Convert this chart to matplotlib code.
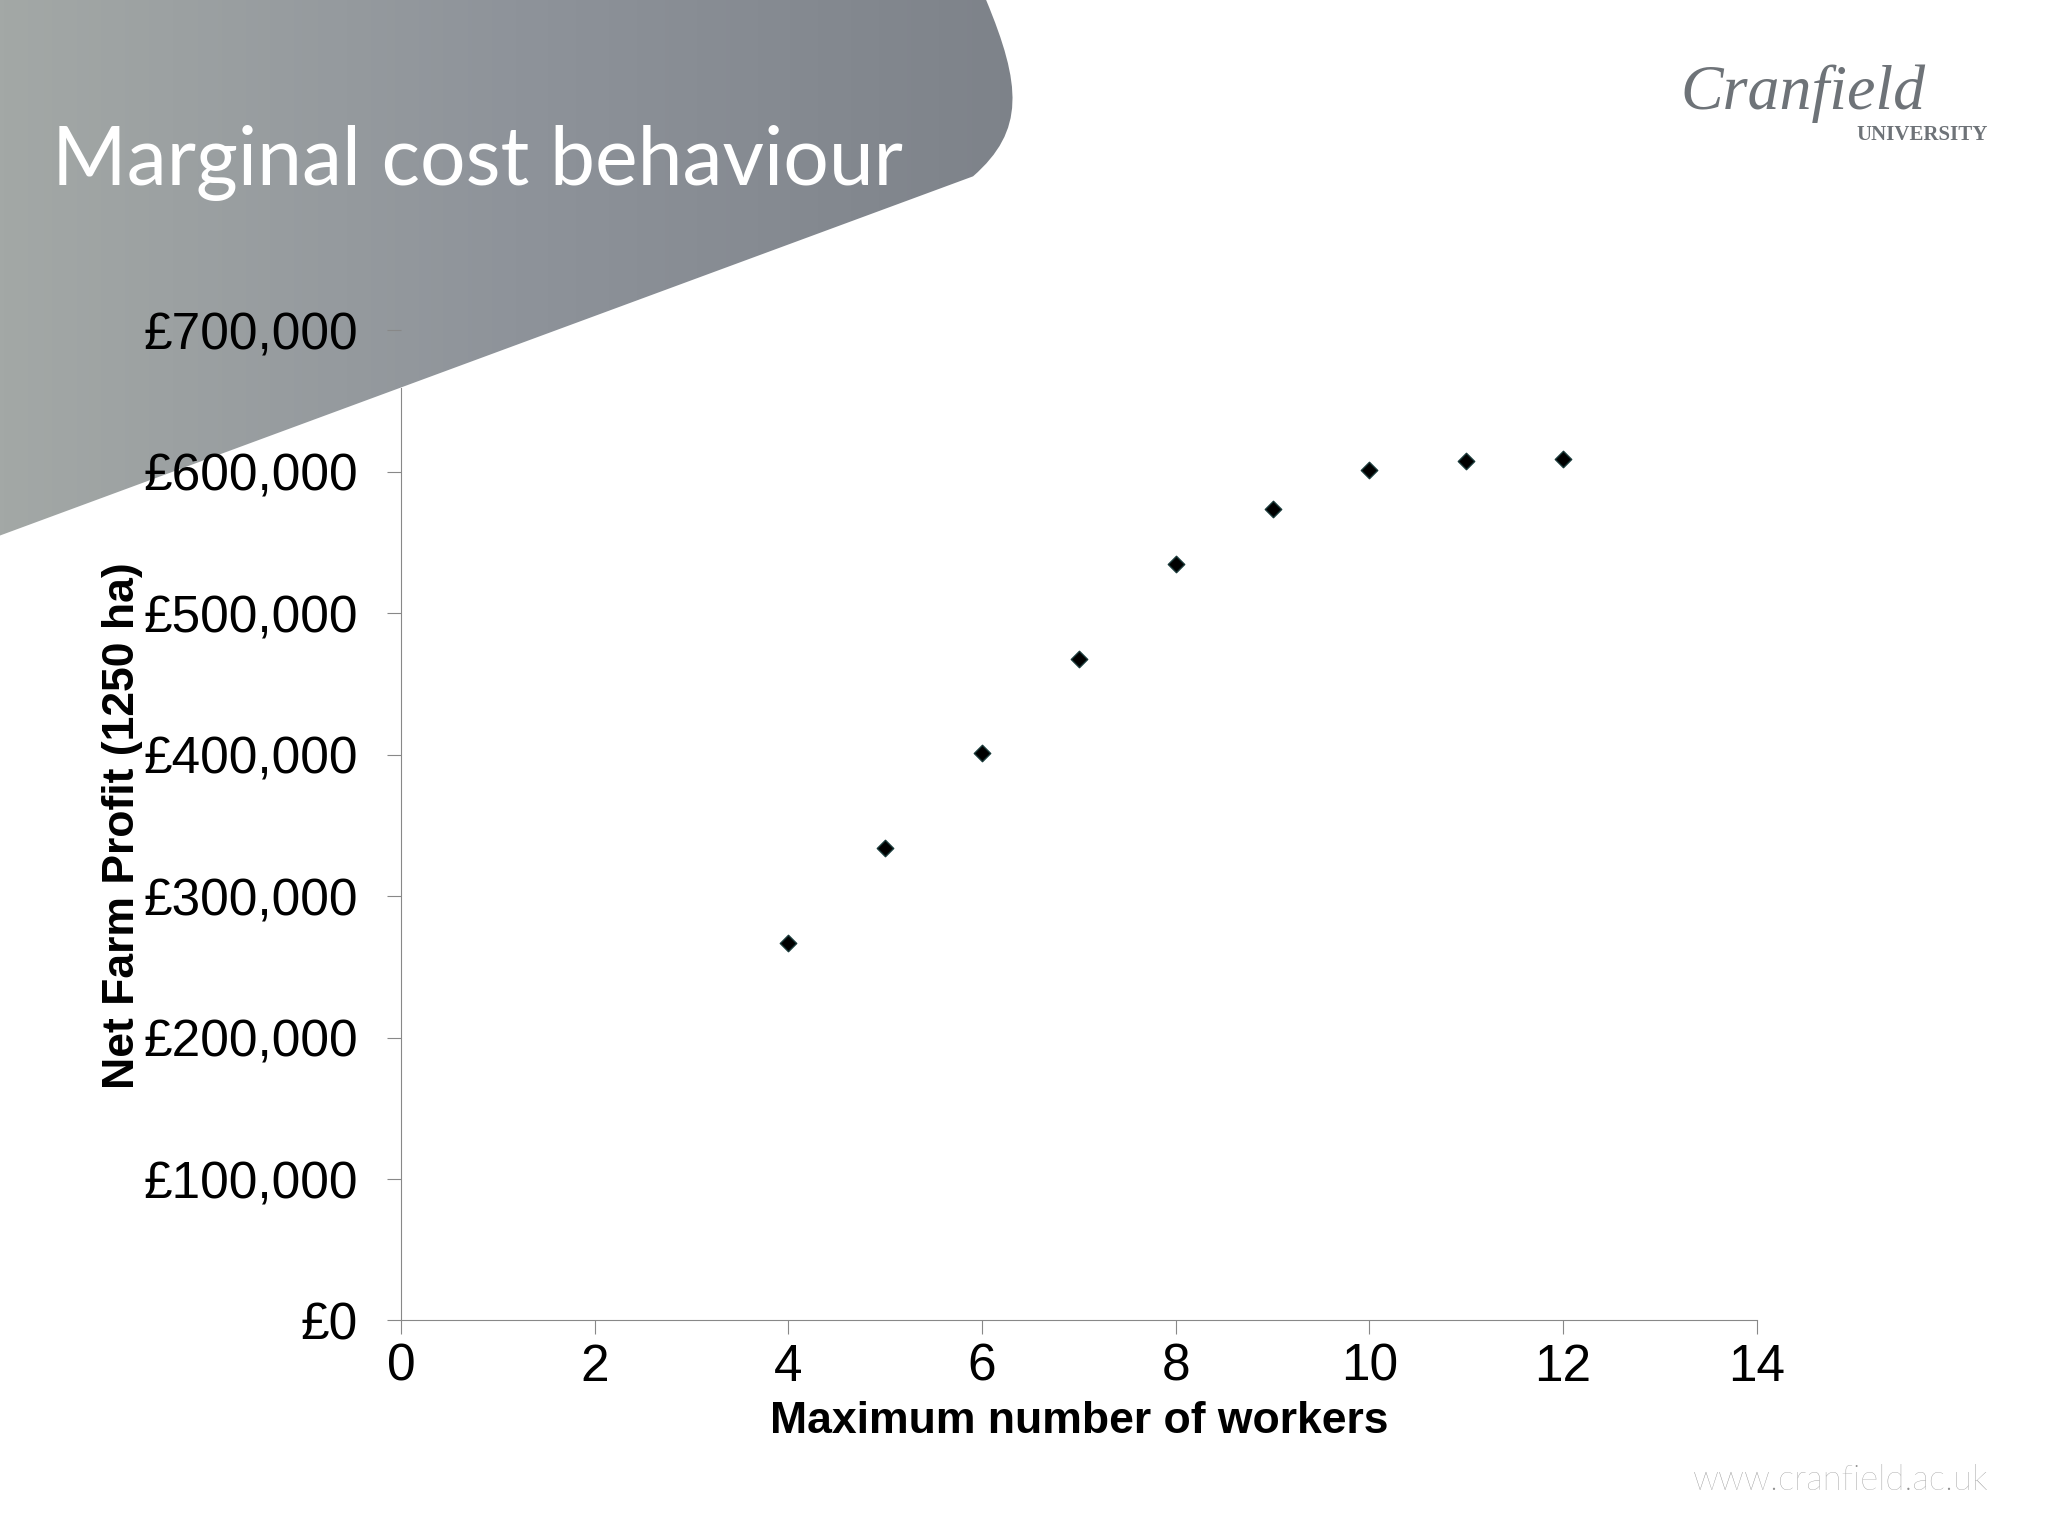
import matplotlib
matplotlib.use("Agg")
import matplotlib.pyplot as plt
import numpy as np
from matplotlib.path import Path
from matplotlib.patches import PathPatch
from matplotlib.ticker import FuncFormatter
from matplotlib.colors import LinearSegmentedColormap

workers = [4, 5, 6, 7, 8, 9, 10, 11, 12]
profit = [267000, 334000, 401000, 468000, 535000, 574000, 601000, 608000, 609000]

W, H = 1568, 1176
fig = plt.figure(figsize=(20.48, 15.36), dpi=100)
fig.patch.set_facecolor("white")

bg = fig.add_axes([0, 0, 1, 1], zorder=0)
bg.axis("off")
verts = [(0, 0), (755, 0), (782, 65), (785, 100), (745, 135), (0, 410), (0, 0)]
codes = [Path.MOVETO, Path.LINETO, Path.CURVE4, Path.CURVE4, Path.CURVE4, Path.LINETO, Path.CLOSEPOLY]
patch = PathPatch(Path(verts, codes), facecolor="none", edgecolor="none")
bg.add_patch(patch)
grad = np.linspace(0, 1, 256)[None, :]
cm = LinearSegmentedColormap.from_list("g", ["#a3a8a6", "#8e939a", "#7d8289"])
im = bg.imshow(grad, extent=[0, 790, 410, 0], cmap=cm, aspect="auto")
im.set_clip_path(patch)
bg.set_xlim(0, W); bg.set_ylim(H, 0)
bg.text(40, 125, "Marginal cost behaviour", fontsize=58, color="white",
        fontfamily="Lato", fontweight="normal", va="center")
bg.text(1474, 72, "Cranfield", fontsize=46, color="#6e7378", fontfamily="Liberation Serif",
        style="italic", ha="right", va="center")
bg.text(1522, 103, "UNIVERSITY", fontsize=15, color="#6e7378", fontfamily="Liberation Serif",
        fontweight="bold", ha="right", va="center")
bg.text(1522, 1133, "www.cranfield.ac.uk", fontsize=25, color="#909090",
        fontfamily="Lato", fontweight="light", ha="right", va="center")

ax = fig.add_axes([307/W, 1 - 1011/H, (1345-307)/W, (1011-253)/H], zorder=1)
ax.patch.set_alpha(0)
ax.scatter(workers, profit, marker="D", s=70, color="black", edgecolors="#1a3a3a", zorder=3)
ax.set_xlim(0, 14); ax.set_ylim(0, 700000)
ax.set_xticks(range(0, 15, 2))
ax.set_yticks(range(0, 700001, 100000))
ax.yaxis.set_major_formatter(FuncFormatter(lambda v, p: "£{:,.0f}".format(v)))
for s in ["top", "right"]:
    ax.spines[s].set_visible(False)
ax.spines["left"].set_bounds(0, 659000)
for s in ["left", "bottom"]:
    ax.spines[s].set_color("#888888")
for lab in ax.get_xticklabels() + ax.get_yticklabels():
    lab.set_fontfamily("Liberation Sans")
ax.tick_params(axis="both", labelsize=37, colors="#888888", labelcolor="black", length=10, direction="out")
ax.tick_params(axis="y", pad=21)
ax.tick_params(axis="x", pad=6)
ax.set_xlabel("Maximum number of workers", fontsize=32, fontweight="bold",
              fontfamily="Liberation Sans")
ax.xaxis.set_label_coords(0.5, -0.081)
ax.set_ylabel("Net Farm Profit (1250 ha)", fontsize=32, fontweight="bold",
              fontfamily="Liberation Sans")
ax.yaxis.set_label_coords(-0.19, 0.50)
fig.savefig("out.png", dpi=100)
